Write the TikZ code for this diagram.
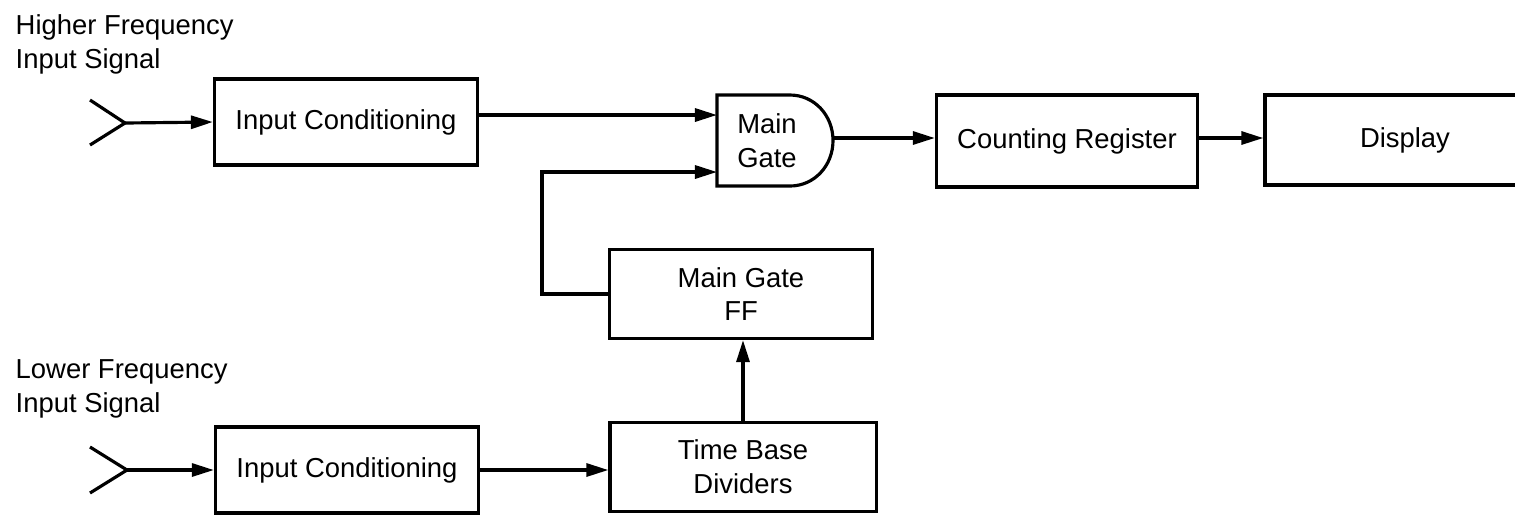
\documentclass[tikz,border=0pt]{standalone}
\usepackage{fontspec}
\setmainfont{Liberation Sans}
\usetikzlibrary{arrows.meta,calc,positioning}

\tikzset{
        txt/.style={font=\fontsize{7.8}{9.6}\selectfont},
        block/.style={txt, draw, line width=0.9pt, minimum width=2.63cm, minimum height=0.86cm, inner sep=0pt, align=center},
        wire/.style={line width=0.9pt},
        feed/.style={wire, -{Triangle[length=2.2mm,width=1.3mm]}},
        caption/.style={txt, inner sep=0pt, align=left, anchor=north west}
}

\begin{document}
\begin{tikzpicture}[x=0.01cm, y=-0.01cm]
        \path[use as bounding box, clip] (0,0) rectangle (1515,514);

        \node[caption] (hilabel) at (15,14) {Higher Frequency\\Input Signal};
        \node[caption] (lolabel) at (15,359) {Lower Frequency\\Input Signal};

        \coordinate (hiin) at (125,123);
        \draw [wire] ($(hiin) + (-35,-23)$) -- (hiin) -- ($(hiin) + (-35,22)$);

        \coordinate (loin) at (127,470);
        \draw [wire] ($(loin) + (-37,-23)$) -- (loin) -- ($(loin) + (-37,23)$);

        \node[block] (hicond) at (346,122) {Input Conditioning};
        \node[block] (locond) at (347,470) {Input Conditioning};
        \node[block, minimum width=2.61cm, minimum height=0.92cm] (count) at (1067,141) {Counting Register};
        \node[block, minimum width=2.8cm, minimum height=0.9cm] (disp) at (1405,140) {Display};
        \node[block, minimum height=0.89cm] (gateff) at (741,294) {Main Gate\\FF};
        \node[block, minimum width=2.66cm, minimum height=0.89cm] (divider) at (743,467) {Time Base\\Dividers};

        \draw [wire] (717,186) -- (717,95) -- (790,95)
                .. controls (814,95) and (833,115) .. (833,140.5)
                .. controls (833,166) and (814,186) .. (790,186) -- cycle;
        \node[txt, align=center] (gate) at (767,141) {Main\\Gate};

        \coordinate (gin1) at (717,115);
        \coordinate (gin2) at (717,172);
        \coordinate (gout) at (833,138);
        \coordinate (bend) at (542,172);

        \draw [feed] (hiin) -- (hicond.west);
        \draw [feed] (hicond.east |- gin1) -- (gin1);
        \draw [feed] (gateff.west) -| (bend) -- (gin2);
        \draw [feed] (gout) -- (gout -| count.west);
        \draw [feed] (count.east |- gout) -- (gout -| disp.west);
        \draw [feed] (divider.north) -- (divider.north |- gateff.south);
        \draw [feed] (loin) -- (locond.west);
        \draw [feed] (locond.east) -- (locond.east -| divider.west);
    \end{tikzpicture}
\end{document}
